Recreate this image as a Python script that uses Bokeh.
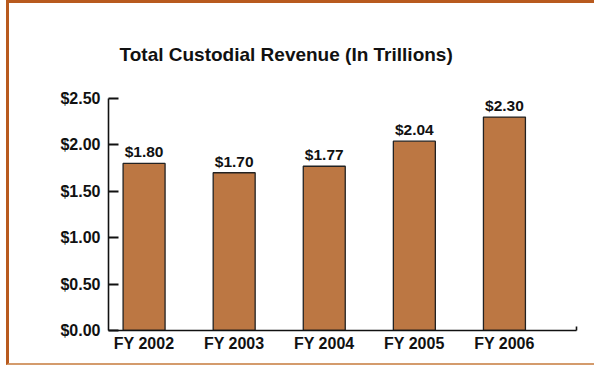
from bokeh.plotting import figure
from bokeh.models import ColumnDataSource, Range1d, FixedTicker, Title, NumeralTickFormatter, LabelSet
from bokeh.core.properties import value
from bokeh.embed import file_html
from bokeh.resources import INLINE

# Total custodial revenue, trillions of dollars
years = ["FY 2002", "FY 2003", "FY 2004", "FY 2005", "FY 2006"]
revenue = [1.80, 1.70, 1.77, 2.04, 2.30]
value_labels = ["$1.80", "$1.70", "$1.77", "$2.04", "$2.30"]
y_ticks = [0.0, 0.5, 1.0, 1.5, 2.0, 2.5]

FONT = "Liberation Sans"
BAR = "#bc7743"
FRAME = "#b85a1e"
INK = "#111111"

idx = list(range(len(years)))
src = ColumnDataSource(dict(x=idx, top=revenue, label=value_labels))

x_start, x_end = -0.395, 4.8

p = figure(
    width=588, height=365,
    x_range=Range1d(x_start, x_end), y_range=Range1d(0, 2.5),
    output_backend="svg", toolbar_location=None,
    min_border_left=99, min_border_right=21, min_border_top=95, min_border_bottom=38,
    background_fill_color="white", border_fill_color="white",
)
p.styles = {
    "margin-left": "6px",
    "border-left": f"3px solid {FRAME}",
    "border-top": f"3px solid {FRAME}",
    "border-bottom": "2px solid #d49b6c",
}
p.outline_line_color = None
p.xgrid.grid_line_color = None
p.ygrid.grid_line_color = None

p.vbar(x="x", top="top", width=0.466, source=src,
       fill_color=BAR, line_color="#222222", line_width=1.3)

labels = LabelSet(x="x", y="top", text="label", source=src,
                  text_align="center", text_baseline="alphabetic", y_offset=6,
                  text_font=value(FONT), text_font_style="bold",
                  text_font_size="15.5px", text_color=INK)
p.add_layout(labels)

title = Title(text="Total Custodial Revenue (In Trillions)", align="left", offset=11,
              text_font=FONT, text_font_style="bold", text_font_size="19px",
              text_color=INK, standoff=67)
p.add_layout(title, "above")

# y axis: ticks point into the plot
ya = p.yaxis[0]
ya.ticker = FixedTicker(ticks=y_ticks, minor_ticks=[])
ya.formatter = NumeralTickFormatter(format="$0.00")
ya.major_tick_in = 10
ya.major_tick_out = 0
ya.minor_tick_in = 0
ya.minor_tick_out = 0
ya.major_tick_line_width = 2
ya.axis_line_width = 1.6
ya.axis_line_color = INK
ya.major_tick_line_color = INK
ya.major_label_standoff = 8
ya.major_label_text_font = FONT
ya.major_label_text_font_style = "bold"
ya.major_label_text_font_size = "16px"
ya.major_label_text_color = INK

# x axis: category labels under bars, a small closing tick at the right end
xa = p.xaxis[0]
xa.ticker = FixedTicker(ticks=idx, minor_ticks=[x_end])
xa.major_label_overrides = {i: name for i, name in zip(idx, years)}
xa.major_tick_in = 0
xa.major_tick_out = 0
xa.minor_tick_in = 4
xa.minor_tick_out = 0
xa.minor_tick_line_width = 1.6
xa.minor_tick_line_color = INK
xa.axis_line_width = 1.6
xa.axis_line_color = INK
xa.major_label_standoff = 4
xa.major_label_text_font = FONT
xa.major_label_text_font_style = "bold"
xa.major_label_text_font_size = "16px"
xa.major_label_text_color = INK

open("out.html", "w").write(file_html(p, INLINE))
